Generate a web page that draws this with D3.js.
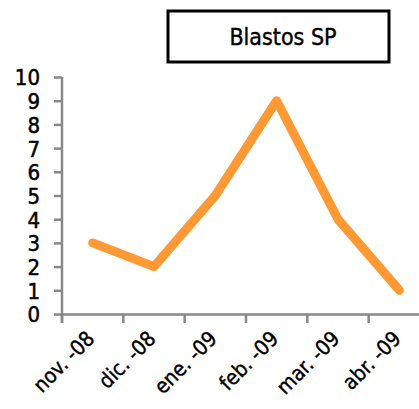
<!DOCTYPE html>
<html>
<head>
<meta charset="utf-8">
<script src="https://cdn.jsdelivr.net/npm/d3@7"></script>
<style>
  body { margin: 0; background: #fff; }
  svg { display: block; font-family: "DejaVu Sans Condensed", "DejaVu Sans", Verdana, sans-serif; }
</style>
</head>
<body>
<svg id="chart" width="419" height="409"></svg>
<script>
// data
const months = ['nov. -08', 'dic. -08', 'ene. -09', 'feb. -09', 'mar. -09', 'abr. -09'];
const blastos = [3, 2, 5, 9, 4, 1];
const yTicks = [0, 1, 2, 3, 4, 5, 6, 7, 8, 9, 10];
const title = 'Blastos SP';

const svg = d3.select('#chart');
const axisColor = '#888';
const font = '"DejaVu Sans Condensed", "DejaVu Sans", Verdana, sans-serif';

const x = d3.scaleBand().domain(months).range([62, 430]);
const y = d3.scaleLinear().domain([0, 10]).range([314, 77]);

// title box
svg.append('rect')
  .attr('x', 168).attr('y', 11)
  .attr('width', 221).attr('height', 51)
  .attr('fill', '#fff').attr('stroke', '#000').attr('stroke-width', 3);
svg.append('text')
  .attr('x', 283).attr('y', 45)
  .attr('text-anchor', 'middle')
  .attr('font-size', 23)
  .attr('stroke', '#000').attr('stroke-width', 0.4)
  .text(title);

// y axis
const yAxis = svg.append('g')
  .attr('transform', 'translate(62,0)')
  .call(d3.axisLeft(y).tickValues(yTicks).tickSize(8).tickPadding(14));
yAxis.select('.domain').attr('stroke', axisColor).attr('stroke-width', 2.5)
  .attr('d', `M0,${y(10)}V${y(0) + 9}`);
yAxis.selectAll('.tick line').attr('stroke', axisColor).attr('stroke-width', 2.5);
yAxis.selectAll('.tick text')
  .attr('font-size', 22).attr('font-family', font)
  .attr('fill', '#000').attr('stroke', '#000').attr('stroke-width', 0.5)
  .attr('dy', '0.36em');

// x axis
const xAxis = svg.append('g')
  .attr('transform', `translate(0,${y(0)})`)
  .call(d3.axisBottom(x).tickSize(0).tickFormat(''));
xAxis.select('.domain').attr('stroke', axisColor).attr('stroke-width', 2.5);
xAxis.selectAll('.tick').remove();

// band-edge tick marks
xAxis.selectAll('line.edge')
  .data(months)
  .join('line')
  .attr('class', 'edge')
  .attr('x1', d => x(d)).attr('x2', d => x(d))
  .attr('y1', 0).attr('y2', 9)
  .attr('stroke', axisColor).attr('stroke-width', 2.5);

// rotated labels
svg.append('g').selectAll('text')
  .data(months)
  .join('text')
  .attr('transform', d => `translate(${x(d) + x.bandwidth() / 2 + 3},${y(0) + 26}) rotate(-45)`)
  .attr('text-anchor', 'end')
  .attr('font-size', 21)
  .attr('stroke', '#000').attr('stroke-width', 0.4)
  .text(d => d);

// line
const line = d3.line()
  .x((d, i) => x(months[i]) + x.bandwidth() / 2)
  .y(d => y(d));

svg.append('path')
  .datum(blastos)
  .attr('d', line)
  .attr('fill', 'none')
  .attr('stroke', '#ff9933')
  .attr('stroke-width', 9)
  .attr('stroke-linejoin', 'round')
  .attr('stroke-linecap', 'round');
</script>
</body>
</html>
